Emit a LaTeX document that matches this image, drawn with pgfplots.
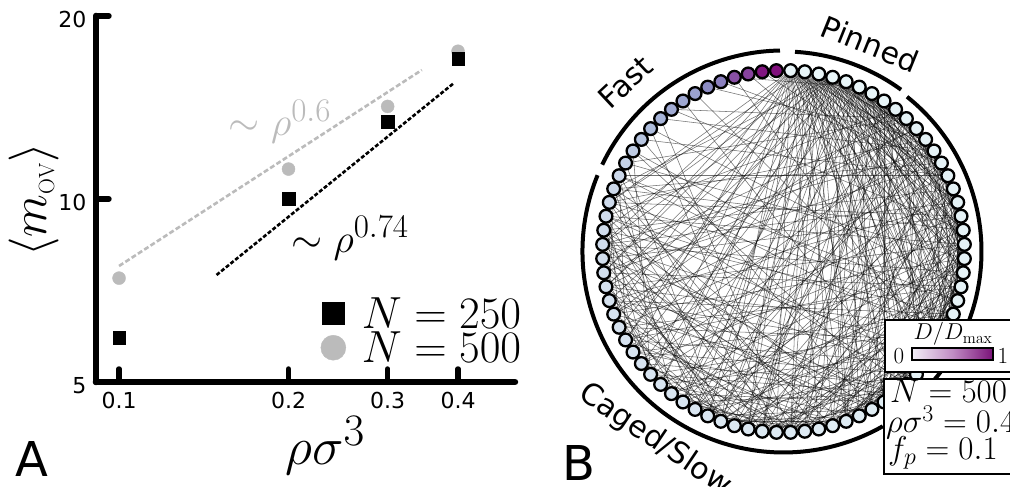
\RequirePackage{fix-cm}
\documentclass[border=0pt]{standalone}
\usepackage[no-math]{fontspec}
\setmainfont{DejaVu Sans}
\usepackage{pgfplots}
\pgfplotsset{compat=1.18}
\usepackage{pgfplotstable}

\DeclareMathSizes{23}{23}{16}{12}
\DeclareMathSizes{33}{33}{24}{18}
\DeclareMathSizes{40}{40}{33}{24}
\DeclareMathSizes{50}{50}{22}{16}
\DeclareMathSizes{45}{45}{31.5}{22.5}
\DeclareMathSizes{53}{53}{45}{32}

\definecolor{lgray}{RGB}{187,187,187}
\newcommand\fsz[1]{\fontsize{#1}{#1}\selectfont}

% mean overlap vs density
\pgfplotstableread{
rho m
0.1 5.91
0.2 10.0
0.3 13.4
0.4 17.0
}\nsmall
\pgfplotstableread{
rho m
0.1 7.41
0.2 11.2
0.3 14.2
0.4 17.5
}\nlarge
% power-law guides
\pgfplotstableread{
rho m
0.100 7.76
0.345 16.3
}\fitsix
\pgfplotstableread{
rho m
0.149 7.50
0.393 15.5
}\fitseven

% network: node index k sits at angle 87.75-4.5k, D = mobility level
\pgfplotstableread{
k D
0 0
1 0
2 0
3 0
4 0
5 0
6 0
7 0
8 0.15
9 0.15
10 0.15
11 0.15
12 0.15
13 0.15
14 0.15
15 0.15
16 0.15
17 0.15
18 0.15
19 0.15
20 0.15
21 0.15
22 0.15
23 0.15
24 0.15
25 0.15
26 0.15
27 0.15
28 0.15
29 0.15
30 0.15
31 0.15
32 0.35
33 0.38
34 0.40
35 0.43
36 0.45
37 0.48
38 0.50
39 0.53
40 0.56
41 0.58
42 0.61
43 0.63
44 0.66
45 0.69
46 0.71
47 0.74
48 0.76
49 0.79
50 0.81
51 0.84
52 0.87
53 0.89
54 0.92
55 0.94
56 0.97
57 1.00
58 1.02
59 1.05
60 1.07
61 1.10
62 1.12
63 1.15
64 1.17
65 1.20
66 1.35
67 1.50
68 1.70
69 1.90
70 2.10
71 2.30
72 2.40
73 2.50
74 3.00
75 3.20
76 4.00
77 4.20
78 4.90
79 5.00
}\nodetab

\pgfplotstableread{
a b
0 12
0 18
0 25
0 33
0 40
0 47
0 55
0 60
0 22
0 29
0 37
0 44
0 52
0 15
0 20
0 28
0 35
0 42
0 50
0 58
0 63
1 10
1 15
1 21
1 27
1 31
1 36
1 42
1 49
1 58
1 63
1 24
1 34
1 13
1 18
1 26
1 30
1 39
1 45
1 53
2 9
2 14
2 19
2 23
2 30
2 35
2 39
2 46
2 53
2 61
2 17
2 28
2 43
2 11
2 16
2 21
2 26
2 33
2 41
2 49
2 57
3 11
3 16
3 20
3 26
3 32
3 38
3 45
3 50
3 57
3 64
3 13
3 41
3 9
3 14
3 18
3 23
3 29
3 35
3 47
3 54
3 60
4 12
4 17
4 24
4 29
4 34
4 41
4 48
4 56
4 21
4 37
4 10
4 15
4 19
4 27
4 32
4 44
4 52
5 13
5 19
5 26
5 33
5 39
5 44
5 51
5 27
5 15
5 11
5 17
5 23
5 30
5 36
5 47
6 14
6 20
6 25
6 31
6 38
6 46
6 22
6 30
6 12
6 17
6 28
6 35
6 42
7 15
7 21
7 28
7 35
7 42
7 18
7 26
7 13
7 24
7 32
7 39
8 27
8 40
8 55
8 62
8 33
8 14
9 25
9 36
9 48
9 59
9 16
9 20
9 29
9 43
10 30
10 44
10 57
10 38
10 20
10 18
10 58
11 29
11 41
11 52
11 63
11 21
11 17
11 25
11 34
11 46
12 26
12 35
12 47
12 60
12 19
12 23
12 55
13 32
13 45
13 58
13 24
13 21
13 28
13 39
13 51
13 64
14 28
14 43
14 54
14 65
14 37
15 31
15 39
15 50
15 61
15 22
15 26
15 33
15 45
16 27
16 42
16 56
16 34
16 23
16 25
16 60
17 33
17 46
17 59
17 40
17 24
17 29
17 36
17 53
17 63
18 30
18 38
18 51
18 64
18 25
18 27
19 36
19 49
19 62
19 28
19 26
19 33
19 44
19 57
20 34
20 44
20 55
20 41
20 28
20 31
20 39
20 48
21 39
21 53
21 60
21 30
21 31
22 35
22 47
22 58
22 43
22 29
22 33
22 40
22 54
23 37
23 48
23 63
23 32
23 33
23 65
24 40
24 52
24 61
24 45
24 35
24 31
24 43
24 56
25 38
25 50
25 57
25 32
25 46
25 62
26 42
26 54
26 65
26 36
26 34
27 44
27 56
27 49
27 36
27 33
27 41
27 60
28 41
28 53
28 62
29 46
29 59
29 39
29 37
29 52
30 43
30 51
30 64
31 47
31 57
31 55
31 40
31 50
32 48
32 60
32 52
32 41
33 45
33 61
33 56
33 40
34 50
34 63
34 58
34 44
35 49
35 59
35 44
36 53
36 62
36 46
37 54
37 64
37 45
38 51
38 60
38 47
39 55
39 61
39 48
40 57
40 65
41 56
41 63
41 50
42 58
42 47
43 59
43 52
43 54
44 60
44 62
45 61
45 55
46 64
47 57
48 65
49 58
50 62
51 61
53 65
54 63
56 64
66 20
66 44
66 9
67 25
67 50
67 31
68 14
68 33
69 22
69 40
70 12
70 39
71 18
71 9
72 30
73 26
74 11
75 13
76 5
76 27
77 20
78 16
}\edgetab

\begin{document}
\begin{tikzpicture}
\useasboundingbox (0pt,0pt) rectangle (1010pt,487pt);

% ---------------- panel A ----------------
\begin{axis}[
  at={(96pt,105pt)}, anchor=south west,
  scale only axis, width=419pt, height=366pt,
  xmode=log, ymode=log,
  xmin=0.091, xmax=0.505, ymin=5, ymax=20,
  axis x line*=bottom, axis y line*=left,
  axis line style={line width=6.5pt, line cap=round},
  xtick={0.1,0.2,0.3,0.4}, xticklabels={0.1,0.2,0.3,0.4},
  ytick={5,10,20}, yticklabels={5,10,20},
  minor xtick={}, minor ytick={},
  tick align=inside, major tick length=13pt,
  major tick style={line width=5.5pt, line cap=round, black},
  tick label style={font=\fsz{22}},
  xticklabel style={yshift=-7pt},
  yticklabel style={xshift=-6pt, yshift=-4pt},
  clip=false,
  legend style={at={(0.529,0.24)}, anchor=north west, draw=none, fill=none,
    font=\fsz{45}, nodes={inner sep=1pt},
    /tikz/every odd column/.append style={column sep=15pt}},
  legend cell align=left,
]
\addplot[lgray, line width=2.6pt, dash pattern=on 5pt off 2.5pt, forget plot] table {\fitsix};
\addplot[black, line width=2.6pt, dash pattern=on 4pt off 2pt, forget plot] table {\fitseven};
\addplot[only marks, mark=*, mark size=6.5pt, color=lgray, forget plot] table {\nlarge};
\addplot[only marks, mark=square*, mark size=6.3pt, black, forget plot] table {\nsmall};
\addlegendimage{only marks, mark=square*, mark size=11pt, black}
\addlegendentry{$N=250$}
\addlegendimage{only marks, mark=*, mark size=12.5pt, color=lgray}
\addlegendentry{$N=500$}
\end{axis}

\node[rotate=90, font=\fsz{50}, inner sep=1pt] at (34pt,287pt) {$\langle m_{\mathrm{OV}}\rangle$};
\node[anchor=base, font=\fsz{53}] at (325pt,22pt) {$\rho\sigma^3$};
\node[text=lgray, font=\fsz{40}] at (280pt,365pt) {$\sim\rho^{0.6}$};
\node[font=\fsz{40}] at (350pt,249pt) {$\sim\rho^{0.74}$};
\node[anchor=base west, inner sep=0pt, font=\fsz{48}] at (15pt,10pt) {A};

% ---------------- panel B ----------------
\begin{axis}[
  at={(543.5pt,-4.5pt)}, anchor=south west,
  scale only axis, width=480pt, height=480pt,
  xmin=-240, xmax=240, ymin=-240, ymax=240,
  hide axis, clip=false,
  colormap={nodecm}{rgb255=(232,245,248) rgb255=(212,224,238) rgb255=(170,185,218)
    rgb255=(140,140,196) rgb255=(137,80,165) rgb255=(128,15,124)},
  point meta min=0, point meta max=5,
]
\addplot[black, opacity=0.55, line width=0.55pt,
  quiver={u={181*cos(87.75-4.5*\thisrow{b})-181*cos(87.75-4.5*\thisrow{a})},
          v={181*sin(87.75-4.5*\thisrow{b})-181*sin(87.75-4.5*\thisrow{a})}}]
  table[x expr={181*cos(87.75-4.5*\thisrow{a})}, y expr={181*sin(87.75-4.5*\thisrow{a})}] {\edgetab};
\addplot[scatter, only marks, mark=*, mark size=6.4pt, point meta=\thisrow{D},
  scatter/use mapped color={draw=black, fill=mapped color},
  mark options={line width=2.3pt}]
  table[x expr={181*cos(87.75-4.5*\thisrow{k})}, y expr={181*sin(87.75-4.5*\thisrow{k})}] {\nodetab};
\end{axis}

% group arcs
\begin{scope}[shift={(783.5pt,235.5pt)}, line width=4pt]
  \draw (91:201pt) arc[start angle=91, end angle=154.4, radius=201pt];
  \draw (86.7:200pt) arc[start angle=86.7, end angle=54, radius=200pt];
  \draw (51.4:198pt) arc[start angle=51.4, end angle=-57, radius=198pt];
  \draw (157.7:201pt) arc[start angle=157.7, end angle=299.6, radius=201pt];
  \node[font=\fsz{30}, rotate=43] at (133:232pt) {Fast};
  \node[font=\fsz{30}, rotate=-22] at (67.4:225pt) {Pinned};
  \node[font=\fsz{30}, rotate=-34] at (235.7:228pt) {Caged/Slow};
\end{scope}

% colour key and parameters
\draw[line width=1.5pt, fill=white] (885pt,115pt) rectangle (1015pt,167pt);
\shade[left color={rgb,255:red,242;green,238;blue,246}, right color={rgb,255:red,122;green,18;blue,120},
  middle color={rgb,255:red,192;green,140;blue,196}] (912pt,127pt) rectangle (993pt,139pt);
\draw[line width=1.2pt] (912pt,127pt) rectangle (993pt,139pt);
\node[font=\fsz{23}] at (899pt,131pt) {$0$};
\node[font=\fsz{23}] at (1003pt,131pt) {$1$};
\node[font=\fsz{23}] at (953pt,153pt) {$D/D_{\max}$};
\draw[line width=2pt, fill=white] (884pt,13pt) rectangle (1015pt,108pt);
\node[anchor=base west, inner sep=0pt, font=\fsz{33}] at (890pt,84pt) {$N=500$};
\node[anchor=base west, inner sep=0pt, font=\fsz{33}] at (886pt,54pt) {$\rho\sigma^3=0.4$};
\node[anchor=base west, inner sep=0pt, font=\fsz{33}] at (888pt,27pt) {$f_p=0.1$};

\node[anchor=base west, inner sep=0pt, font=\fsz{48}] at (562pt,6pt) {B};
\end{tikzpicture}
\end{document}
